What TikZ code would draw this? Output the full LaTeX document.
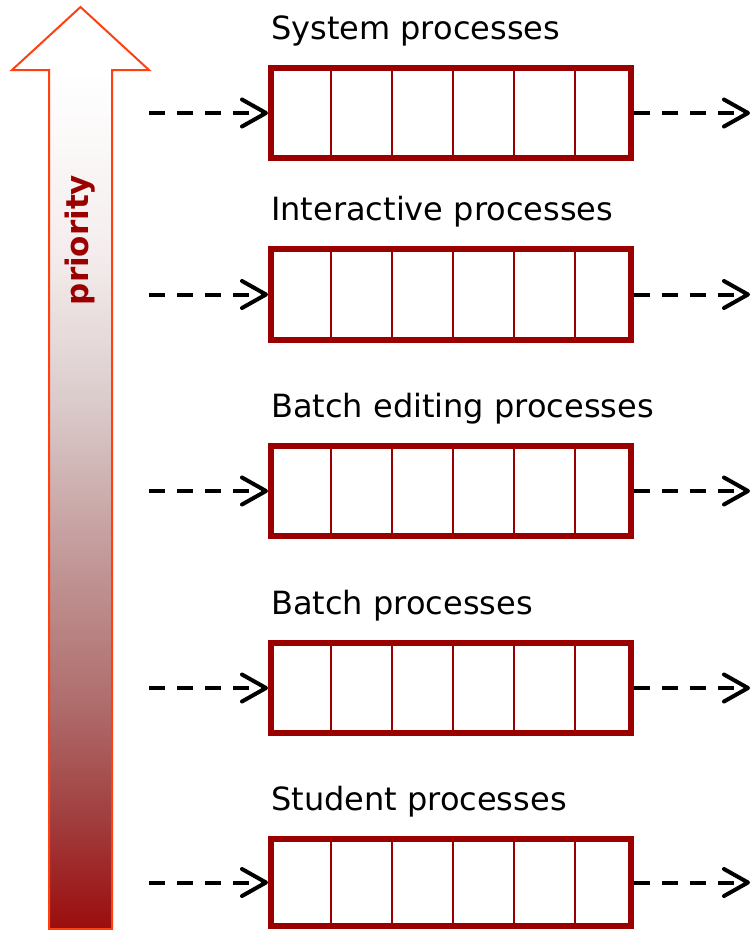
\documentclass[tikz,border=0pt]{standalone}
\usepackage{fontspec}
\setmainfont{DejaVu Sans}
\usetikzlibrary{arrows.meta}
\definecolor{qred}{RGB}{155,0,0}
\definecolor{aorange}{RGB}{255,64,16}
\pgfdeclareverticalshading{prioshade}{100bp}{rgb(0bp)=(0.61,0.05,0.05); rgb(25bp)=(0.61,0.05,0.05); rgb(30.9bp)=(0.63,0.24,0.24); rgb(37.4bp)=(0.69,0.43,0.43); rgb(43.9bp)=(0.75,0.57,0.57); rgb(53.7bp)=(0.86,0.80,0.80); rgb(61.8bp)=(0.96,0.93,0.93); rgb(71.5bp)=(1,1,1); rgb(100bp)=(1,1,1)}
\begin{document}
\begin{tikzpicture}[x=1pt,y=-1pt,
  queue/.style={draw=qred, line width=6pt, minimum width=360pt, inner sep=0pt},
  divider/.style={draw=qred, line width=2.5pt},
  lbl/.style={anchor=base west, inner sep=0pt, font=\fontsize{32}{38}\selectfont},
  flow/.style={black, line width=4pt, dash pattern=on 16pt off 12pt,
    -{Straight Barb[length=24pt,width=27pt,round]}}]
\useasboundingbox (0,0) rectangle (751,930);
% priority arrow
\shadedraw[draw=aorange, line width=2pt, shading=prioshade]
  (49,929) -- (49,70) -- (12,70) -- (80.5,7) -- (149,70) -- (112,70) -- (112,929) -- cycle;
\node[rotate=90, text=qred, inner sep=0pt, font=\bfseries\fontsize{31}{36}\selectfont] (prio) at (80,240) {priority};
% queues
\foreach \i/\cy/\h/\base/\txt in {1/113/90/39/System processes,
  2/294.5/91/220/Interactive processes,
  3/491/90/417/Batch editing processes,
  4/688/90/614/Batch processes,
  5/882.5/87/810/Student processes}{
  \node[queue, minimum height=\h pt] (q\i) at (451,\cy) {};
  \foreach \x in {331,392,453,514,575}
    \draw[divider] (\x,\cy-\h/2) -- (\x,\cy+\h/2);
  \node[lbl] (l\i) at (271,\base) {\txt};
  \coordinate (in\i) at (149,\cy);
  \coordinate (out\i) at (750,\cy);
  \draw[flow] (in\i) -- (q\i.west);
  \draw[flow] (q\i.east) -- (out\i);
}
\end{tikzpicture}
\end{document}
